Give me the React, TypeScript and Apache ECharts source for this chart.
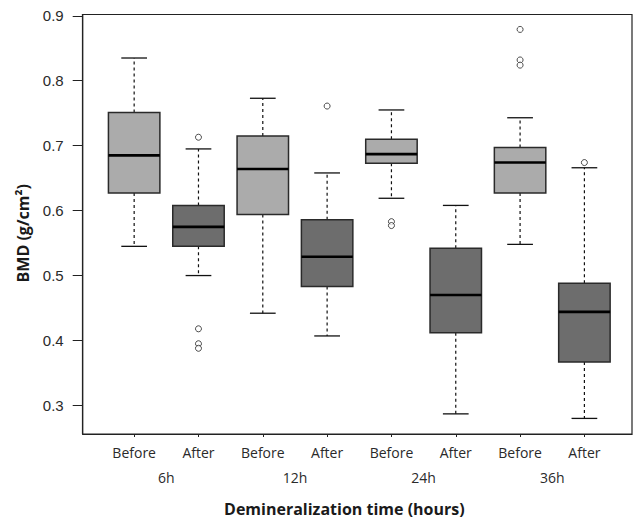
import React, { useEffect, useRef } from "react";
import * as echarts from "echarts";

// ---- data ----
const positions = [1, 2, 3, 4, 5, 6, 7, 8];
const conditions = ["Before", "After", "Before", "After", "Before", "After", "Before", "After"];
const groupPositions = [1.5, 3.5, 5.5, 7.5];
const groupLabels = ["6h", "12h", "24h", "36h"];
const whiskerLow = [0.545, 0.5, 0.442, 0.407, 0.619, 0.287, 0.548, 0.28];
const quartile1 = [0.627, 0.545, 0.594, 0.483, 0.673, 0.412, 0.627, 0.367];
const medians = [0.685, 0.575, 0.664, 0.529, 0.687, 0.47, 0.674, 0.444];
const quartile3 = [0.751, 0.608, 0.715, 0.586, 0.71, 0.542, 0.697, 0.488];
const whiskerHigh = [0.835, 0.695, 0.773, 0.658, 0.755, 0.608, 0.743, 0.666];
const outlierPositions = [2, 2, 2, 2, 4, 5, 5, 7, 7, 7, 8];
const outlierValues = [0.713, 0.418, 0.395, 0.388, 0.761, 0.583, 0.577, 0.879, 0.832, 0.824, 0.674];
const yTicks = [0.3, 0.4, 0.5, 0.6, 0.7, 0.8, 0.9];

const fillColors: Record<string, string> = { Before: "#ababab", After: "#6d6d6d" };

export default function App() {
  const ref = useRef<HTMLDivElement>(null);
  useEffect(() => {
    if (!ref.current) return;
    const chart = echarts.init(ref.current, null, { renderer: "svg" });
    const boxData = positions.map((p, i) => [
      p,
      whiskerLow[i],
      quartile1[i],
      medians[i],
      quartile3[i],
      whiskerHigh[i],
    ]);
    const outlierData = outlierPositions.map((p, i) => [p, outlierValues[i]]);
    const labelFor = (v: number, xs: number[], labels: string[]) => {
      const k = xs.findIndex((x) => Math.abs(x - v) < 1e-6);
      return k >= 0 ? labels[k] : "";
    };

    chart.setOption({
      animation: false,
      grid: {
        left: 82.7,
        right: 3,
        top: 14.5,
        bottom: 87,
        show: true,
        borderColor: "#222",
        borderWidth: 1.2,
        backgroundColor: "transparent",
      },
      xAxis: [
        {
          type: "value",
          position: "bottom",
          min: 0.2,
          max: 8.74,
          splitLine: { show: false },
          axisLine: { show: true, lineStyle: { color: "#222", width: 1.2 } },
          axisTick: {
            show: true,
            length: 3,
            customValues: positions,
            lineStyle: { color: "#222" },
          },
          axisLabel: {
            customValues: positions,
            formatter: (v: number) => labelFor(v, positions, conditions),
            fontFamily: "Open Sans",
            fontSize: 14,
            color: "#2a2a2a",
            margin: 11,
          },
        },
        {
          type: "value",
          position: "bottom",
          min: 0.2,
          max: 8.74,
          splitLine: { show: false },
          axisLine: { show: false },
          axisTick: { show: false },
          axisLabel: {
            customValues: groupPositions,
            formatter: (v: number) => labelFor(v, groupPositions, groupLabels),
            fontFamily: "Open Sans",
            fontSize: 14,
            color: "#2a2a2a",
            margin: 36,
          },
          name: "Demineralization time (hours)",
          nameLocation: "middle",
          nameGap: 67,
          nameTextStyle: {
            fontFamily: "Open Sans",
            fontWeight: "bold",
            fontSize: 16,
            color: "#1a1a1a",
            padding: [0, 26, 0, 0],
          },
        },
      ],
      yAxis: {
        type: "value",
        min: 0.256,
        max: 0.902,
        splitLine: { show: false },
        axisLine: { show: true, lineStyle: { color: "#222", width: 1.2 } },
        axisTick: {
          show: true,
          length: 10,
          customValues: yTicks,
          lineStyle: { color: "#222" },
        },
        axisLabel: {
          customValues: yTicks,
          formatter: (v: number) => v.toFixed(1),
          fontFamily: "Liberation Sans",
          fontSize: 15,
          color: "#2a2a2a",
          margin: 19,
        },
        name: "BMD (g/cm²)",
        nameLocation: "middle",
        nameRotate: 90,
        nameGap: 52,
        nameTextStyle: {
          fontFamily: "Open Sans",
          fontWeight: "bold",
          fontSize: 16,
          color: "#1a1a1a",
          padding: [0, 18, 0, 0],
        },
      },
      series: [
        {
          type: "custom",
          xAxisIndex: 0,
          yAxisIndex: 0,
          encode: { x: 0, y: [1, 2, 3, 4, 5] },
          data: boxData,
          renderItem: (params: any, api: any) => {
            const x = api.value(0);
            const lo = api.coord([x, api.value(1)]);
            const q1 = api.coord([x, api.value(2)]);
            const md = api.coord([x, api.value(3)]);
            const q3 = api.coord([x, api.value(4)]);
            const hi = api.coord([x, api.value(5)]);
            const bw = api.size([0.8, 0])[0];
            const cw = bw * 0.5;
            const cx = lo[0];
            const fill = fillColors[conditions[params.dataIndex]];
            const dash = { stroke: "#111", lineWidth: 1.2, lineDash: [3, 3] };
            const solid = { stroke: "#111", lineWidth: 1.3 };
            return {
              type: "group",
              children: [
                { type: "line", shape: { x1: cx, y1: q3[1], x2: cx, y2: hi[1] }, style: dash },
                { type: "line", shape: { x1: cx, y1: q1[1], x2: cx, y2: lo[1] }, style: dash },
                { type: "line", shape: { x1: cx - cw / 2, y1: hi[1], x2: cx + cw / 2, y2: hi[1] }, style: solid },
                { type: "line", shape: { x1: cx - cw / 2, y1: lo[1], x2: cx + cw / 2, y2: lo[1] }, style: solid },
                {
                  type: "rect",
                  shape: { x: cx - bw / 2, y: q3[1], width: bw, height: q1[1] - q3[1] },
                  style: { fill, stroke: "#2a2a2a", lineWidth: 1.5 },
                },
                {
                  type: "line",
                  shape: { x1: cx - bw / 2, y1: md[1], x2: cx + bw / 2, y2: md[1] },
                  style: { stroke: "#000", lineWidth: 2.6 },
                },
              ],
            };
          },
        },
        {
          type: "scatter",
          xAxisIndex: 0,
          yAxisIndex: 0,
          data: outlierData,
          symbol: "circle",
          symbolSize: 6,
          itemStyle: { color: "#fff", borderColor: "#222", borderWidth: 1 },
        },
      ],
    });
    return () => chart.dispose();
  }, []);
  return <div ref={ref} style={{ width: 635, height: 522, position: "absolute", left: 0, top: 0 }} />;
}
